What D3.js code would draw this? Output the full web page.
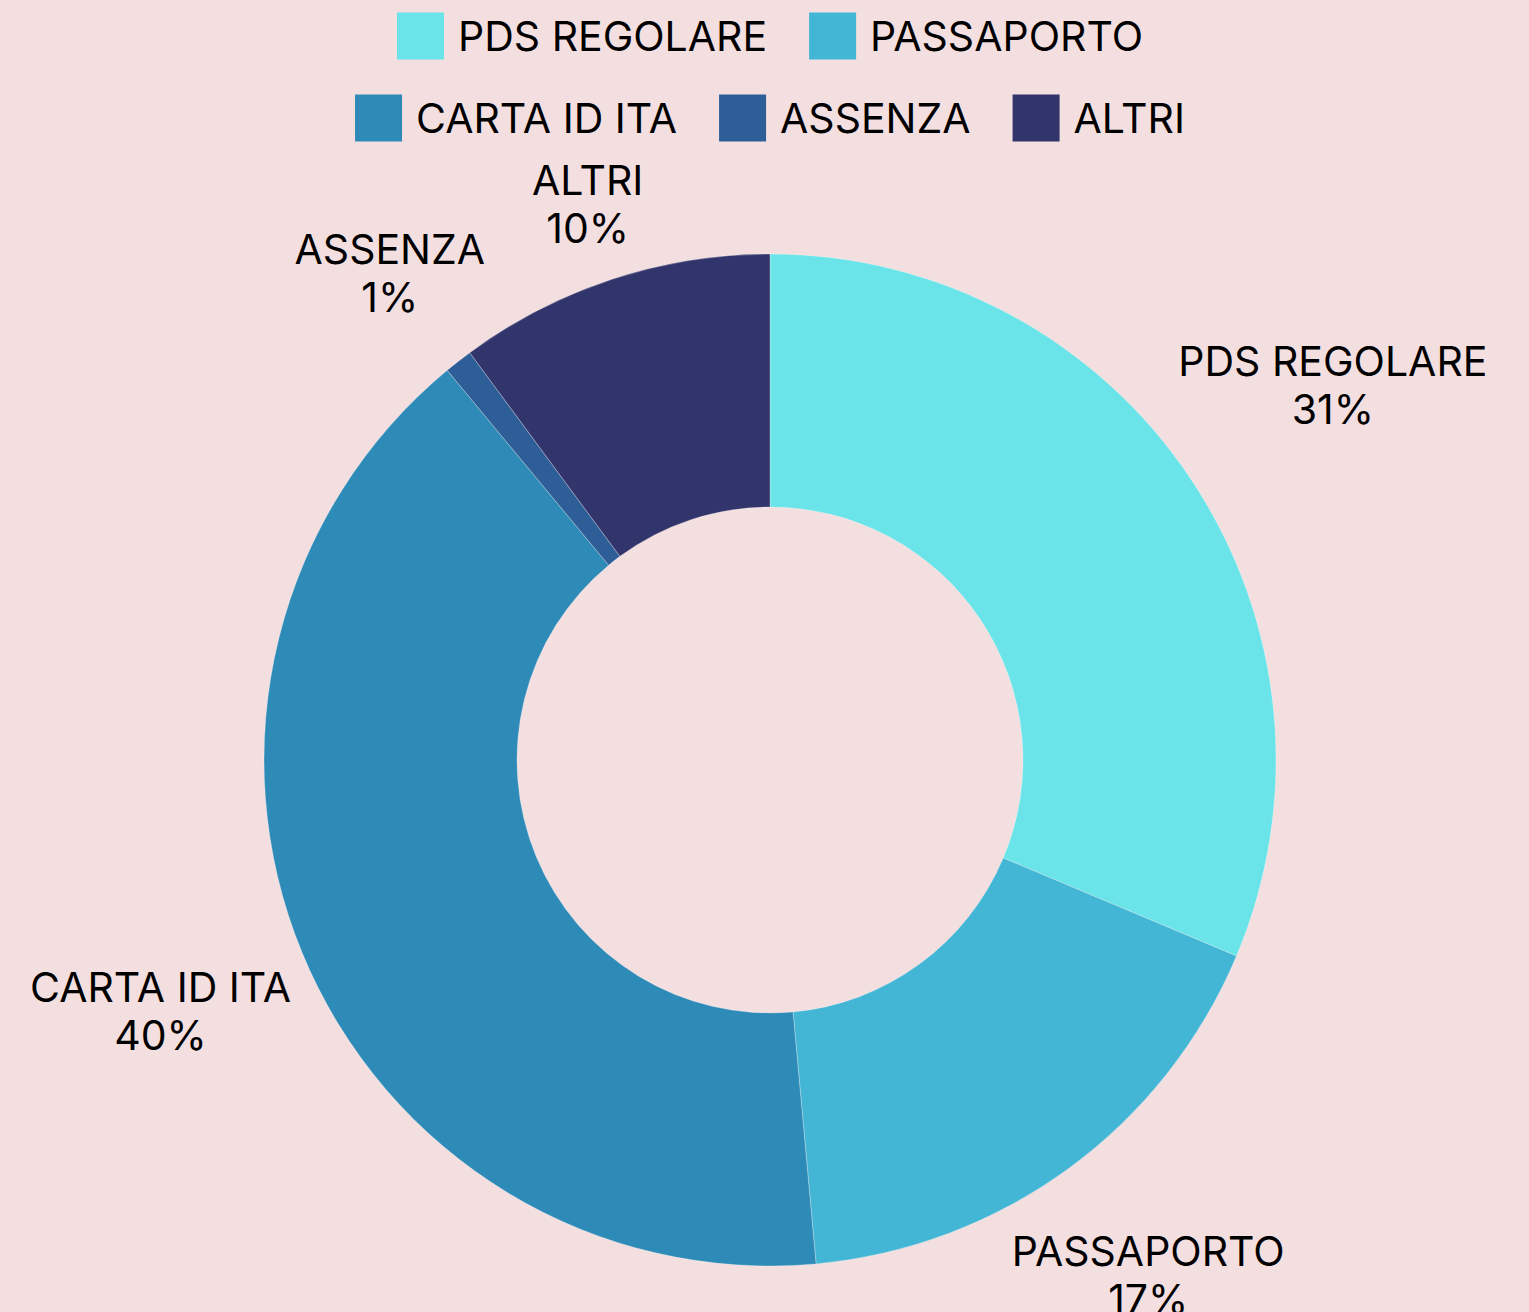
<!DOCTYPE html>
<html lang="it">
<head>
    <meta charset="UTF-8">
    <script src="https://d3js.org/d3.v7.min.js"></script>
    <style>
        html, body {
            margin: 0;
            padding: 0;
            background: #f4dfe0;
        }
        body {
            font-family: Inter, "Noto Sans", Arial, sans-serif;
        }
        .legend text, .label text {
            font-size: 41px;
            fill: #000;
        }
    </style>
</head>
<body>
    <div id="chart"></div>

    <script>
        // dati
        const categorie = ["PDS REGOLARE", "PASSAPORTO", "CARTA ID ITA", "ASSENZA", "ALTRI"];
        const valori = [31.3, 17.2, 40.4, 0.9, 10.1];
        const colori = ["#6ae4e8", "#43b6d5", "#2e8bb8", "#2e5e97", "#31356b"];
        const righeLegenda = [[0, 1], [2, 3, 4]];

        const width = 1529, height = 1312;
        const cx = 770, cy = 760;
        const outerR = 506, innerR = 253;

        const svg = d3.select("#chart")
            .append("svg")
            .attr("width", width)
            .attr("height", height);

        const total = d3.sum(valori);
        const data = categorie.map((c, i) => ({ nome: c, valore: valori[i], colore: colori[i] }));

        const pie = d3.pie().value(d => d.valore).sort(null);
        const arc = d3.arc().innerRadius(innerR).outerRadius(outerR);

        const g = svg.append("g").attr("transform", `translate(${cx},${cy})`);

        g.selectAll("path")
            .data(pie(data))
            .enter()
            .append("path")
            .attr("d", arc)
            .attr("fill", d => d.data.colore)
            .attr("stroke", "rgba(255,255,255,0.35)")
            .attr("stroke-width", 0.8);

        // etichette fuori dall'anello
        const lineH = 48;
        const labels = g.selectAll(".label")
            .data(pie(data))
            .enter()
            .append("g")
            .attr("class", "label");

        labels.append("text")
            .attr("text-anchor", "middle")
            .attr("y", -lineH / 2 + 14)
            .text(d => d.data.nome);
        labels.append("text")
            .attr("text-anchor", "middle")
            .attr("y", lineH / 2 + 14)
            .text(d => Math.round(d.data.valore / total * 100) + "%");

        labels.attr("transform", function(d) {
            const a = (d.startAngle + d.endAngle) / 2;
            const vx = Math.sin(a), vy = -Math.cos(a);
            const bb = this.getBBox();
            const dist = outerR + 14 + bb.width / 2 * Math.abs(vx) + bb.height / 2 * Math.abs(vy);
            return `translate(${vx * dist},${vy * dist})`;
        });

        // legenda
        const sw = 47, gapSw = 14, gapItem = 42;
        const rowY = [36, 118];
        const legend = svg.append("g").attr("class", "legend");

        righeLegenda.forEach((riga, r) => {
            const row = legend.append("g");
            let x = 0;
            riga.forEach(i => {
                const item = row.append("g").attr("transform", `translate(${x},0)`);
                item.append("rect")
                    .attr("x", 0)
                    .attr("y", rowY[r] - sw / 2)
                    .attr("width", sw)
                    .attr("height", sw)
                    .attr("fill", colori[i]);
                const t = item.append("text")
                    .attr("x", sw + gapSw)
                    .attr("y", rowY[r] + 15)
                    .text(categorie[i]);
                x += sw + gapSw + t.node().getComputedTextLength() + gapItem;
            });
            const rowW = x - gapItem;
            row.attr("transform", `translate(${cx - rowW / 2},0)`);
        });
    </script>
</body>
</html>
